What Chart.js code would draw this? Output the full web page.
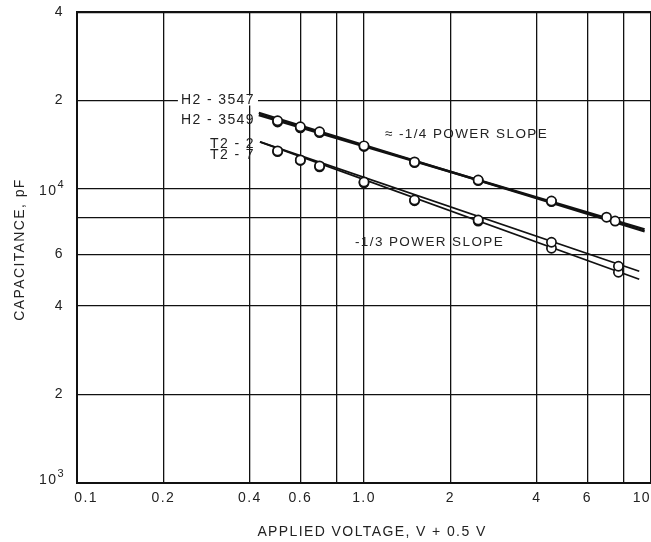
<!DOCTYPE html>
<html><head><meta charset="utf-8">
<script src="https://cdn.jsdelivr.net/npm/chart.js@4.4.1/dist/chart.umd.min.js"></script>
<style>
html,body{margin:0;padding:0;background:#fff;overflow:hidden;width:651px;height:542px}
#wrap{width:700px;height:542px;position:relative}
</style></head><body><div id="wrap"><canvas id="c" width="700" height="542"></canvas></div>
<script>
// ---- data ----
const xTickValues = [0.1, 0.2, 0.4, 0.6, 0.8, 1, 2, 4, 6, 8, 10];
const xTickLabels = ['\u2007\u20070.1', '0.2', '0.4', '0.6', '', '1.0', '2', '4', '6', '', '10\u2007\u2007'];
const yTickValues = [1000, 2000, 4000, 6000, 8000, 10000, 20000, 40000];
const yTickLabels = ['10³', '2', '4', '6', '', '10⁴', '2', '4'];

const voltH2_3547 = [0.5, 0.6, 0.7, 1.0, 1.5, 2.5, 4.5, 7.0];
const capH2_3547  = [17060, 16280, 15650, 14020, 12360, 10730, 9100, 8020];
const voltH2_3549 = [0.5, 0.6, 0.7, 1.0, 1.5, 2.5, 4.5, 7.5];
const capH2_3549  = [16900, 16150, 15550, 13950, 12300, 10680, 9060, 7780];
const voltT2_2 = [0.5, 0.6, 0.7, 1.0, 1.5, 2.5, 4.5, 7.7];
const capT2_2  = [13480, 12560, 11980, 10560, 9170, 7840, 6590, 5460];
const voltT2_7 = [0.5, 0.6, 0.7, 1.0, 1.5, 2.5, 4.5, 7.7];
const capT2_7  = [13400, 12500, 11900, 10500, 9120, 7780, 6290, 5210];

// fitted power-slope lines (end points)
const fitVoltH2 = [0.43, 9.5];
const fitH2_3547 = [18150, 7180];
const fitH2_3549 = [17850, 7290];
const fitVoltT2 = [0.434, 9.1];
const fitT2_2 = [14470, 5250];
const fitT2_7 = [14470, 4930];

// ---- style ----
const FONT = '"Liberation Sans", Arial, sans-serif';
const SPACING = '1.4px';
const TEXT = '#222';
const INK = '#111';
const SUP = { '⁰': '0', '¹': '1', '²': '2', '³': '3', '⁴': '4', '⁵': '5', '⁶': '6', '⁷': '7', '⁸': '8', '⁹': '9' };

function pts(xs, ys) { return xs.map((x, i) => ({ x: x, y: ys[i] })); }
function hasSup(s) { return [...s].some(ch => SUP[ch]); }

function markerSet(label, xs, ys) {
  return { label: label, data: pts(xs, ys), showLine: false, order: 0,
    pointRadius: 4.6, pointBorderWidth: 1.7, pointBackgroundColor: '#fff',
    pointBorderColor: INK, pointHoverRadius: 4.6 };
}
function fitSet(label, xs, ys, w) {
  return { label: label, data: pts(xs, ys), showLine: true, order: 1,
    borderColor: INK, borderWidth: w, pointRadius: 0, fill: false };
}

const notesPlugin = {
  id: 'notes',
  beforeUpdate(chart) { chart.ctx.letterSpacing = SPACING; },
  beforeLayout(chart) { chart.ctx.letterSpacing = SPACING; },
  beforeDraw(chart) {
    const ctx = chart.ctx;
    ctx.letterSpacing = SPACING;
    ctx.save();
    ctx.fillStyle = '#fff';
    ctx.fillRect(0, 0, chart.width, chart.height);
    ctx.restore();
  },
  afterDraw(chart, args, opts) {
    const ctx = chart.ctx, x = chart.scales.x, y = chart.scales.y, ca = chart.chartArea;
    ctx.save();
    ctx.letterSpacing = SPACING;
    ctx.textBaseline = 'middle';
    for (const n of opts.notes) {
      ctx.font = n.size + 'px ' + FONT;
      const px = x.getPixelForValue(n.x), py = y.getPixelForValue(n.y);
      ctx.textAlign = n.align;
      if (n.bg) {
        const w = ctx.measureText(n.text).width;
        const left = n.align === 'right' ? px - w : px;
        ctx.fillStyle = '#fff';
        ctx.fillRect(left - 3, py - 5, w + 6, 10);
      }
      ctx.fillStyle = TEXT;
      ctx.fillText(n.text, px, py);
    }
    // power-of-ten tick labels with a raised exponent
    ctx.textAlign = 'left';
    ctx.fillStyle = TEXT;
    yTickValues.forEach((v, i) => {
      const s = yTickLabels[i];
      if (!hasSup(s)) return;
      const base = [...s].filter(ch => !SUP[ch]).join('');
      const exp = [...s].filter(ch => SUP[ch]).map(ch => SUP[ch]).join('');
      ctx.font = '14px ' + FONT;
      const bw = ctx.measureText(base).width;
      ctx.font = '11px ' + FONT;
      const ew = ctx.measureText(exp).width;
      const right = ca.left - 12;
      let py = y.getPixelForValue(v);
      if (i === 0) py -= 5;
      ctx.font = '14px ' + FONT;
      ctx.fillText(base, right - bw - ew, py + 2);
      ctx.font = '11px ' + FONT;
      ctx.fillText(exp, right - ew, py - 4);
    });
    // axis titles
    ctx.font = '14px ' + FONT;
    ctx.textAlign = 'center';
    ctx.fillText('APPLIED VOLTAGE, V + 0.5 V', (ca.left + ca.right) / 2 + 8, 532);
    ctx.translate(20.5, (ca.top + ca.bottom) / 2 + 2);
    ctx.rotate(-Math.PI / 2);
    ctx.fillText('CAPACITANCE, pF', 0, 0);
    ctx.restore();
  }
};

new Chart(document.getElementById('c'), {
  type: 'scatter',
  data: {
    datasets: [
      markerSet('H2 - 3547', voltH2_3547, capH2_3547),
      markerSet('H2 - 3549', voltH2_3549, capH2_3549),
      markerSet('T2 - 2', voltT2_2, capT2_2),
      markerSet('T2 - 7', voltT2_7, capT2_7),
      fitSet('H2 - 3547 fit', fitVoltH2, fitH2_3547, 2.4),
      fitSet('H2 - 3549 fit', fitVoltH2, fitH2_3549, 2.4),
      fitSet('T2 - 2 fit', fitVoltT2, fitT2_2, 1.7),
      fitSet('T2 - 7 fit', fitVoltT2, fitT2_7, 1.7)
    ]
  },
  options: {
    responsive: false,
    animation: false,
    devicePixelRatio: 1,
    layout: { padding: { top: 12, right: 49, left: 0, bottom: 0 } },
    plugins: {
      legend: { display: false },
      tooltip: { enabled: false },
      notes: {
        notes: [
          { text: 'H2 - 3547', x: 0.417, y: 20000, align: 'right', size: 14, bg: true },
          { text: 'H2 - 3549', x: 0.417, y: 17200, align: 'right', size: 14 },
          { text: 'T2 - 2', x: 0.417, y: 14240, align: 'right', size: 14 },
          { text: 'T2 - 7', x: 0.417, y: 13060, align: 'right', size: 14 },
          { text: '≈ -1/4 POWER SLOPE', x: 1.183, y: 15400, align: 'left', size: 13.5 },
          { text: '-1/3 POWER SLOPE', x: 0.93, y: 6590, align: 'left', size: 13.5 }
        ]
      }
    },
    scales: {
      x: {
        type: 'logarithmic', min: 0.1, max: 10,
        afterBuildTicks: s => { s.ticks = xTickValues.map(v => ({ value: v })); },
        afterFit: s => { s.height = 59; s.paddingLeft = 0; s.paddingRight = 0; },
        ticks: {
          autoSkip: false, maxRotation: 0, padding: 7, color: TEXT,
          font: { family: FONT, size: 14 },
          callback: (v, i) => xTickLabels[i]
        },
        grid: { color: INK, lineWidth: 1.3, drawTicks: false },
        border: { display: true, color: INK, width: 2 }
      },
      y: {
        type: 'logarithmic', min: 1000, max: 40000,
        afterBuildTicks: s => { s.ticks = yTickValues.map(v => ({ value: v })); },
        afterFit: s => { s.width = 77; s.paddingTop = 0; s.paddingBottom = 0; },
        ticks: {
          autoSkip: false, padding: 13, color: TEXT,
          font: { family: FONT, size: 14 },
          callback: (v, i) => (hasSup(yTickLabels[i]) ? '' : yTickLabels[i])
        },
        grid: { color: INK, lineWidth: c => (c.index === yTickValues.length - 1 ? 2.2 : 1.3), drawTicks: false },
        border: { display: true, color: INK, width: 2 }
      }
    }
  },
  plugins: [notesPlugin]
});
</script>
</body></html>
